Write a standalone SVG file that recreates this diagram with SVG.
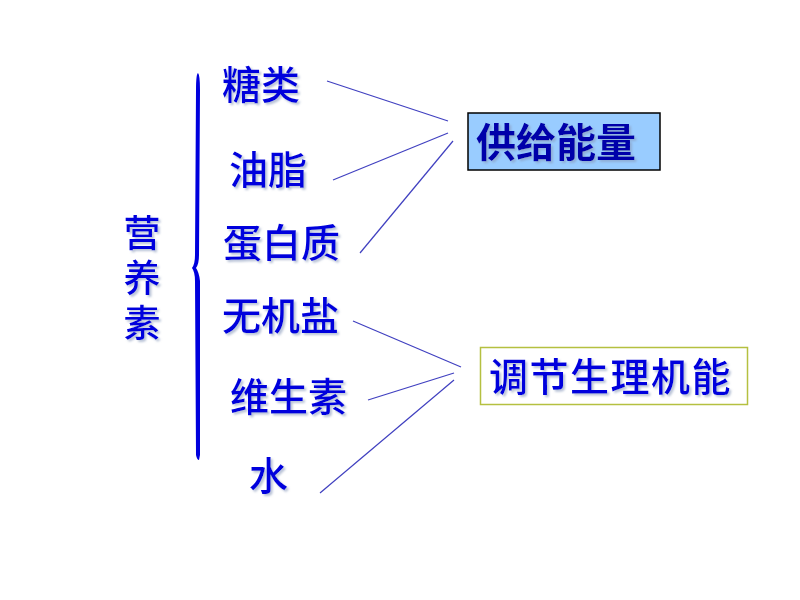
<svg xmlns="http://www.w3.org/2000/svg" width="800" height="600" viewBox="0 0 800 600">
<defs>
<filter id="sh" x="-10%" y="-10%" width="130%" height="140%">
<feDropShadow dx="2" dy="2" stdDeviation="1" flood-color="#8899bb" flood-opacity="0.6"/>
</filter>
<style>
.t{font-family:"Noto Sans CJK SC","Noto Sans",sans-serif;font-size:39px;font-weight:500;fill:#0000dd;filter:url(#sh)}
.b{font-weight:bold;fill:#0000aa;font-size:40px}
.c{stroke:#4040c0;stroke-width:1.2;fill:none}
</style>
</defs>
<rect width="800" height="600" fill="#ffffff"/>
<g id="brace">
<path d="M198,73 Q196,74 196,90 L195,255 Q195,264 192,268 Q195,272 195,281 L196,455 Q197,460 199,460 L200,455 L200,281 Q199,272 196,268 Q199,264 199,255 L200,90 Q200,75 198,73 Z" fill="#0000dd"/>
</g>
<g id="nutrients">
<text class="t" x="142" y="214" style="font-size:37px;writing-mode:vertical-rl;letter-spacing:8px">营养素</text>
</g>
<g id="n-tanglei"><text class="t" x="222" y="99">糖类</text></g>
<g id="n-youzhi"><text class="t" x="229" y="184">油脂</text></g>
<g id="n-danbaizhi"><text class="t" x="223" y="257">蛋白质</text></g>
<g id="n-wujiyan"><text class="t" x="222" y="330">无机盐</text></g>
<g id="n-weishengsu"><text class="t" x="230" y="411">维生素</text></g>
<g id="n-shui"><text class="t" x="249" y="490">水</text></g>
<g id="n-energy">
<rect x="468" y="113" width="192" height="57" fill="#99ccff" stroke="#000000" stroke-width="1.5"/>
<text class="t b" x="476" y="157">供给能量</text>
</g>
<g id="n-regulate">
<rect x="480.5" y="347.5" width="267" height="57" fill="#ffffff" stroke="#b5c040" stroke-width="1.5"/>
<text class="t" x="489" y="391" letter-spacing="1.5">调节生理机能</text>
</g>
<g id="connectors">
<line class="c" x1="327" y1="81" x2="448" y2="121"/>
<line class="c" x1="333" y1="180" x2="448" y2="133"/>
<line class="c" x1="360" y1="253" x2="453" y2="141"/>
<line class="c" x1="353" y1="321" x2="461" y2="367"/>
<line class="c" x1="368" y1="400" x2="454" y2="373"/>
<line class="c" x1="320" y1="493" x2="454" y2="380"/>
</g>
</svg>
